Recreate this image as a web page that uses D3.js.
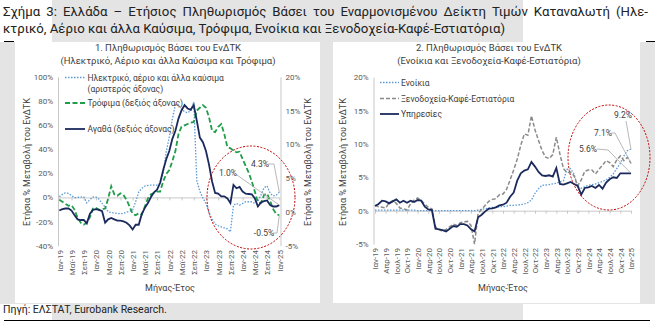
<!DOCTYPE html>
<html><head><meta charset="utf-8">
<script src="https://cdn.jsdelivr.net/npm/d3@7"></script>
<style>
body{margin:0;background:#fff;}
svg{display:block;font-family:Roboto,"Open Sans",sans-serif;}
</style>
</head><body>
<svg id="c" width="655" height="322"></svg>
<script>
// ---------- DATA ----------
const categories = [
"Ιαν-19","Φεβ-19","Μαρ-19","Απρ-19","Μαϊ-19","Ιουν-19","Ιουλ-19","Αυγ-19","Σεπ-19","Οκτ-19","Νοε-19","Δεκ-19",
"Ιαν-20","Φεβ-20","Μαρ-20","Απρ-20","Μαϊ-20","Ιουν-20","Ιουλ-20","Αυγ-20","Σεπ-20","Οκτ-20","Νοε-20","Δεκ-20",
"Ιαν-21","Φεβ-21","Μαρ-21","Απρ-21","Μαϊ-21","Ιουν-21","Ιουλ-21","Αυγ-21","Σεπ-21","Οκτ-21","Νοε-21","Δεκ-21",
"Ιαν-22","Φεβ-22","Μαρ-22","Απρ-22","Μαϊ-22","Ιουν-22","Ιουλ-22","Αυγ-22","Σεπ-22","Οκτ-22","Νοε-22","Δεκ-22",
"Ιαν-23","Φεβ-23","Μαρ-23","Απρ-23","Μαϊ-23","Ιουν-23","Ιουλ-23","Αυγ-23","Σεπ-23","Οκτ-23","Νοε-23","Δεκ-23",
"Ιαν-24","Φεβ-24","Μαρ-24","Απρ-24","Μαϊ-24","Ιουν-24","Ιουλ-24","Αυγ-24","Σεπ-24","Οκτ-24","Νοε-24","Δεκ-24",
"Ιαν-25"];

// Panel 1
const electricity = [0.5,2.5,3.8,3.3,1.5,-0.3,0.0,0.3,0.5,-4.5,-2.0,0.3,0.5,-1.5,-5.0,-8.0,-11.9,-12.5,-12.9,-13.3,-13.5,-13.3,-12.2,-11.5,-10.5,-3.5,4.5,7.5,9.4,10.0,10.2,10.2,10.2,11.5,20,38,50,65,77,77,73,71,70,72,79,14,5,-0.5,-5,-12.5,-18,-22,-23.5,-24.4,-25.3,-26,-28.5,-6.4,-5,-6.4,-5,-3.6,-3.6,-3.6,-5,-3,2,8,9.5,3.5,1.2,1.9,4.3];
const food = [1.8,1.5,1.2,0.9,1.0,0.3,-0.9,-1.6,-1.9,-1.6,-0.8,0.5,0.6,0.3,0.4,0.5,2.0,3.8,2.6,2.4,2.75,2.5,1.8,0.8,-0.3,-0.5,-0.2,-0.4,0.8,2.0,2.6,2.8,3.0,3.0,4.5,5.6,6.2,7.5,9.0,11.5,12.6,12.8,13.0,13.2,13.3,15.0,15.4,15.8,15.4,14.0,12.0,11.8,12.6,13.0,11.5,9.6,9.4,9.1,8.8,8.9,7.8,6.8,5.8,4.5,3.0,1.4,1.3,2.5,2.7,1.6,0.4,-0.3,-0.5];
const goods = [0.2,0.4,0.5,0.5,0.2,-0.5,-1.1,-1.2,-1.2,-1.7,-0.3,0.3,0.4,0.3,0.1,-1.6,-1.1,-0.9,-1.1,-1.3,-1.3,-1.4,-1.6,-2.0,-2.6,-1.9,-1.9,-0.3,0.6,1.3,2.2,2.9,3.3,4.3,6.2,7.8,9.0,10.8,12.0,13.8,15.0,15.8,15.3,15.1,15.8,13.5,11.0,10.3,9.0,7.0,4.5,2.8,2.7,2.3,2.3,2.0,1.3,4.0,3.5,3.7,3.0,2.7,2.65,2.6,2.0,0.8,1.4,1.6,1.7,1.0,0.8,0.8,1.0];

// Panel 2
const rent = [0.1,0.1,0.1,0.1,0.1,0.1,0.1,0.1,0.1,0.1,0.1,0.1,0.0,0.0,0.0,0.0,0.0,0.0,0.0,0.0,0.0,0.0,0.0,0.0,0.0,0.0,0.0,0.0,0.0,0.1,0.2,0.3,0.4,0.5,0.5,0.6,0.6,0.7,0.8,0.8,0.85,0.9,1.0,1.2,1.6,2.6,3.3,3.8,3.85,3.9,4.0,4.1,4.3,4.5,6.2,6.3,5.5,3.6,3.35,3.6,3.8,3.9,4.0,4.2,4.4,4.6,5.0,5.5,6.3,7.1,8.2,9.0,9.2];
const hotels = [0.8,0.6,0.5,0.4,1.2,1.5,1.1,0.4,0.3,0.1,1.0,1.6,1.9,1.5,1.0,0.5,0.3,-2.4,-2.8,-3.1,-2.8,-2.4,-2.0,-2.2,-1.8,-1.65,-1.6,-2.2,-5.0,-0.4,0.2,0.8,1.4,1.7,1.8,2.4,2.5,3.2,4.6,6.1,7.7,9.8,11.5,11.3,14.2,12.1,10.5,9.0,8.0,7.8,8.4,11.0,8.5,6.3,5.7,5.8,5.2,3.7,4.6,5.9,6.1,6.1,5.5,6.2,6.8,7.5,7.2,6.6,7.6,8.2,7.5,8.0,7.1];
const services = [0.7,1.0,1.5,1.4,1.1,1.4,1.7,1.2,1.5,1.2,1.5,1.3,1.6,1.5,0.6,0.2,0.1,-2.7,-2.8,-2.9,-3.1,-2.7,-2.3,-2.4,-2.0,-2.0,-2.2,-2.8,-3.1,-1.0,-0.6,-0.1,0.3,0.35,0.5,0.8,0.9,1.2,2.1,2.7,4.5,5.6,6.0,6.2,7.3,6.6,5.8,5.3,5.2,5.3,5.1,6.4,4.0,3.9,4.1,4.3,4.0,3.7,2.4,3.4,3.5,3.7,3.4,3.85,3.3,4.2,4.7,5.0,4.9,5.6,5.6,5.6,5.6];

const leftTickIdx = [0,4,8,12,16,20,24,28,32,36,40,44,48,52,56,60,64,68,72];
const rightTickIdx = [0,3,6,9,12,15,18,21,24,27,30,33,36,39,42,45,48,51,54,57,60,63,66,69,72];
const leftAxisTicks = [-40,-20,0,20,40,60,80,100];
const rightAxisTicks1 = [-5,0,5,10,15,20];
const axisTicks2 = [-5,0,5,10,15,20];

const titleLine1 = "Σχήμα 3: Ελλάδα – Ετήσιος Πληθωρισμός Βάσει του Εναρμονισμένου Δείκτη Τιμών Καταναλωτή (Ηλε-";
const titleLine2 = "κτρικό, Αέριο και άλλα Καύσιμα, Τρόφιμα, Ενοίκια και Ξενοδοχεία-Καφέ-Εστιατόρια)";
const source = "Πηγή: ΕΛΣΤΑΤ, Eurobank Research.";

// ---------- DRAW ----------
const svg = d3.select("#c");
const GRAY_BG = "#e4e4e4";
const AX = "#c8c8c8";
const LBL = "#595959";
const NAVY = "#1b2a5c", BLUE = "#5b9bd5", GREEN = "#1f9e4a", GREYD = "#8a8a8a", RED = "#c00000";

svg.append("rect").attr("width",655).attr("height",322).attr("fill","#fff");
svg.append("rect").attr("x",52).attr("y",0).attr("width",471).attr("height",320).attr("fill",GRAY_BG);
svg.append("rect").attr("x",0).attr("y",42).attr("width",655).attr("height",262).attr("fill",GRAY_BG);
svg.append("rect").attr("x",15).attr("y",42).attr("width",305).attr("height",261).attr("fill","#fff");
svg.append("rect").attr("x",333).attr("y",42).attr("width",307).attr("height",261).attr("fill","#fff");

// title
const t1 = svg.append("text").attr("x",3).attr("y",16).attr("font-size",13.2).attr("fill","#222").text(titleLine1);
svg.append("text").attr("x",3).attr("y",32.5).attr("font-size",13.2).attr("fill","#222").text(titleLine2);
{
  const nat = t1.node().getComputedTextLength();
  const spaces = titleLine1.split(" ").length - 1;
  const extra = (645 - nat) / spaces;
  if (extra > 0) t1.attr("word-spacing", extra);
  else t1.attr("textLength",645).attr("lengthAdjust","spacingAndGlyphs");
}
svg.append("line").attr("x1",4).attr("x2",14).attr("y1",41.5).attr("y2",41.5).attr("stroke","#000").attr("stroke-width",1);
svg.append("line").attr("x1",646).attr("x2",655).attr("y1",41.5).attr("y2",41.5).attr("stroke","#000").attr("stroke-width",1);
svg.append("text").attr("x",3).attr("y",313).attr("font-size",10.5).attr("fill","#222").text(source);
svg.append("line").attr("x1",4).attr("x2",650).attr("y1",320.5).attr("y2",320.5).attr("stroke","#000").attr("stroke-width",1);

function styleAxis(g){
  g.selectAll("path.domain").attr("stroke",AX);
  g.selectAll(".tick line").attr("stroke",AX);
  g.selectAll("text").attr("fill",LBL).attr("font-family","Roboto").attr("font-size",8);
}

// ---------- PANEL 1 ----------
const x1 = d3.scaleLinear().domain([0,72]).range([59.3,279.3]);
const yL = d3.scaleLinear().domain([-40,100]).range([245.7,76.7]);
const yR = d3.scaleLinear().domain([-5,20]).range([245.7,76.7]);

svg.append("text").attr("x",168).attr("y",51).attr("text-anchor","middle").attr("font-size",9.5).attr("fill","#404040").text("1. Πληθωρισμός Βάσει του ΕνΔΤΚ");
svg.append("text").attr("x",168).attr("y",63.5).attr("text-anchor","middle").attr("font-size",9.5).attr("fill","#404040").text("(Ηλεκτρικό, Αέριο και άλλα Καύσιμα και Τρόφιμα)");

const gL = svg.append("g").attr("transform","translate(58,0)")
  .call(d3.axisLeft(yL).tickValues(leftAxisTicks).tickFormat(d=>d+"%").tickSize(0).tickPadding(5));
styleAxis(gL);
const gR = svg.append("g").attr("transform","translate(280.5,0)")
  .call(d3.axisRight(yR).tickValues(rightAxisTicks1).tickFormat(d=>d+"%").tickSize(0).tickPadding(5));
styleAxis(gR);
const gX1 = svg.append("g").attr("transform",`translate(0,${yL(0)})`)
  .call(d3.axisBottom(x1).tickValues(leftTickIdx).tickFormat("").tickSize(3).tickSizeOuter(0));
styleAxis(gX1);
const gX1l = svg.append("g").attr("transform","translate(0,250)")
  .call(d3.axisBottom(x1).tickValues(leftTickIdx).tickFormat(i=>categories[i]).tickSize(0));
gX1l.select("path.domain").remove();
styleAxis(gX1l);
gX1l.selectAll("text").attr("transform","rotate(-90)").attr("text-anchor","end").attr("x",0).attr("y",0).attr("dy","0.35em");

svg.append("text").attr("transform","translate(30,162) rotate(-90)").attr("text-anchor","middle").attr("font-size",9).attr("fill","#404040").text("Ετήσια % Μεταβολή του ΕνΔΤΚ");
svg.append("text").attr("transform","translate(311,162) rotate(-90)").attr("text-anchor","middle").attr("font-size",9).attr("fill","#404040").text("Ετήσια % Μεταβολή του ΕνΔΤΚ");
svg.append("text").attr("x",170).attr("y",291).attr("text-anchor","middle").attr("font-size",9).attr("fill","#404040").text("Μήνας-Έτος");

const lineL = d3.line().x((d,i)=>x1(i)).y(d=>yL(d));
const lineR = d3.line().x((d,i)=>x1(i)).y(d=>yR(d));
svg.append("path").attr("d",lineL(electricity)).attr("fill","none").attr("stroke",BLUE).attr("stroke-width",1.3).attr("stroke-dasharray","1.5,1.5");
svg.append("path").attr("d",lineR(food)).attr("fill","none").attr("stroke",GREEN).attr("stroke-width",1.8).attr("stroke-dasharray","5,2.5");
svg.append("path").attr("d",lineR(goods)).attr("fill","none").attr("stroke",NAVY).attr("stroke-width",1.8);

// legend 1
const leg1 = [
  {y:77.5, lines:["Ηλεκτρικό, αέριο και άλλα καύσιμα","(αριστερός άξονας)"], c:BLUE, w:1.3, da:"1.5,1.5"},
  {y:103, lines:["Τρόφιμα (δεξιός άξονας)"], c:GREEN, w:1.8, da:"5,2.5"},
  {y:129, lines:["Αγαθά (δεξιός άξονας)"], c:NAVY, w:1.8, da:null}
];
leg1.forEach(d=>{
  const l = svg.append("line").attr("x1",65).attr("x2",85).attr("y1",d.y).attr("y2",d.y).attr("stroke",d.c).attr("stroke-width",d.w);
  if(d.da) l.attr("stroke-dasharray",d.da);
  d.lines.forEach((s,k)=>svg.append("text").attr("x",87.5).attr("y",d.y+3+k*11).attr("font-size",8.5).attr("fill","#404040").text(s));
});

// annotations panel 1
const ann = (x,y,txt,pts,anchor)=>{
  svg.append("polyline").attr("points",pts.map(p=>p.join(",")).join(" ")).attr("fill","none").attr("stroke","#a6a6a6").attr("stroke-width",0.8);
  svg.append("text").attr("x",x).attr("y",y).attr("text-anchor",anchor||"middle").attr("font-size",8.5).attr("fill","#404040").text(txt);
};
const L = 72;
ann(260,167,"4.3%",[[268,164],[274,164],[x1(L),yL(electricity[L])]]);
ann(228,176,"1.0%",[[237,175],[x1(L),yR(goods[L])]]);
ann(264,236,"-0.5%",[[273,233],[277,233],[x1(L),yR(food[L])]]);
svg.append("ellipse").attr("cx",251).attr("cy",197.5).attr("rx",44).attr("ry",51.5).attr("fill","none").attr("stroke",RED).attr("stroke-width",1).attr("stroke-dasharray","2,1.5");

// ---------- PANEL 2 ----------
const x2 = d3.scaleLinear().domain([0,72]).range([375,631]);
const y2 = d3.scaleLinear().domain([-5,20]).range([244.1,77.1]);

svg.append("text").attr("x",489).attr("y",51).attr("text-anchor","middle").attr("font-size",9.5).attr("fill","#404040").text("2. Πληθωρισμός Βάσει του ΕνΔΤΚ");
svg.append("text").attr("x",489).attr("y",63.5).attr("text-anchor","middle").attr("font-size",9.5).attr("fill","#404040").text("(Ενοίκια και Ξενοδοχεία-Καφέ-Εστιατόρια)");

const g2 = svg.append("g").attr("transform","translate(373.5,0)")
  .call(d3.axisLeft(y2).tickValues(axisTicks2).tickFormat(d=>d+"%").tickSize(0).tickPadding(5));
styleAxis(g2);
const gX2 = svg.append("g").attr("transform",`translate(0,${y2(0)})`)
  .call(d3.axisBottom(x2).tickValues(rightTickIdx).tickFormat("").tickSize(3).tickSizeOuter(0));
styleAxis(gX2);
const gX2l = svg.append("g").attr("transform","translate(0,248)")
  .call(d3.axisBottom(x2).tickValues(rightTickIdx).tickFormat(i=>categories[i]).tickSize(0));
gX2l.select("path.domain").remove();
styleAxis(gX2l);
gX2l.selectAll("text").attr("transform","rotate(-90)").attr("text-anchor","end").attr("x",0).attr("y",0).attr("dy","0.35em");

svg.append("text").attr("transform","translate(346,162) rotate(-90)").attr("text-anchor","middle").attr("font-size",9).attr("fill","#404040").text("Ετήσια % Μεταβολή του ΕνΔΤΚ");
svg.append("text").attr("x",503).attr("y",291).attr("text-anchor","middle").attr("font-size",9).attr("fill","#404040").text("Μήνας-Έτος");

const line2 = d3.line().x((d,i)=>x2(i)).y(d=>y2(d));
svg.append("path").attr("d",line2(rent)).attr("fill","none").attr("stroke",BLUE).attr("stroke-width",1.3).attr("stroke-dasharray","1.5,1.5");
svg.append("path").attr("d",line2(hotels)).attr("fill","none").attr("stroke",GREYD).attr("stroke-width",1.5).attr("stroke-dasharray","4,2");
svg.append("path").attr("d",line2(services)).attr("fill","none").attr("stroke",NAVY).attr("stroke-width",1.8);

const leg2 = [
  {y:82.5, t:"Ενοίκια", c:BLUE, w:1.3, da:"1.5,1.5"},
  {y:98.5, t:"Ξενοδοχεία-Καφέ-Εστιατόρια", c:GREYD, w:1.5, da:"4,2"},
  {y:114, t:"Υπηρεσίες", c:NAVY, w:1.8, da:null}
];
leg2.forEach(d=>{
  const l = svg.append("line").attr("x1",380).attr("x2",399).attr("y1",d.y).attr("y2",d.y).attr("stroke",d.c).attr("stroke-width",d.w);
  if(d.da) l.attr("stroke-dasharray",d.da);
  svg.append("text").attr("x",401).attr("y",d.y+3).attr("font-size",8.5).attr("fill","#404040").text(d.t);
});

ann(623,118,"9.2%",[[626,121],[x2(L),y2(rent[L])]]);
ann(603,136,"7.1%",[[611,133],[615,133],[x2(L),y2(hotels[L])]]);
ann(588,152,"5.6%",[[597,149],[608,150],[x2(L),y2(services[L])]]);
svg.append("ellipse").attr("cx",609).attr("cy",157.5).attr("rx",41).attr("ry",52.5).attr("fill","none").attr("stroke",RED).attr("stroke-width",1).attr("stroke-dasharray","2,1.5");
</script>
</body></html>
